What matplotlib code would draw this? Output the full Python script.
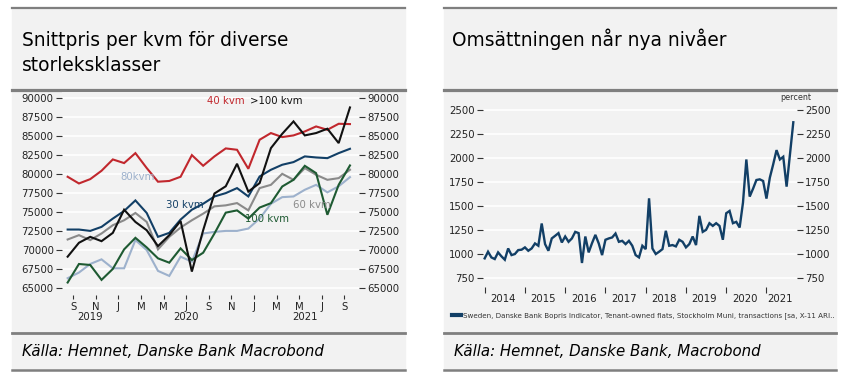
import numpy as np
import matplotlib
matplotlib.use("Agg")
import matplotlib.pyplot as plt
from matplotlib.patches import Rectangle
from matplotlib.lines import Line2D

# --- left chart: snittpris per kvm, aug 2019 - sep 2021 ---
month_labels = ["S", "N", "J", "M", "M", "J", "S", "N", "J", "M", "M", "J", "S"]
years_left = ["2019", "2020", "2021"]
kvm40 = [79650, 78770, 79340, 80440, 81930, 81450, 82760, 80800, 79000, 79100, 79650, 82500, 81100,
         82330, 83380, 83200, 80700, 84520, 85400, 84870, 85090, 85610, 86270, 85830, 86620, 86580]
kvm100plus = [69140, 70970, 71750, 71180, 72270, 75320, 73710, 72620, 70530, 71970, 73840, 67180, 72620,
              77450, 78400, 81360, 77700, 78820, 83420, 85300, 86930, 85090, 85400, 85970, 84080, 88770]
kvm30 = [72710, 72710, 72530, 73060, 74150, 75150, 76540, 74890, 71750, 72270, 74020, 75320, 76100,
         77060, 77500, 78160, 77060, 79690, 80570, 81230, 81580, 82330, 82190, 82100, 82760, 83330]
kvm60 = [71400, 71970, 71320, 72190, 73280, 73930, 74890, 73710, 70100, 71750, 72970, 73930, 74800,
         75760, 75890, 76190, 75230, 78160, 78590, 80040, 79250, 80790, 79910, 79250, 79470, 80570]
kvm100 = [65740, 68180, 68050, 66090, 67530, 70100, 71620, 70360, 68920, 68350, 70230, 68700, 69660,
          72190, 74930, 75230, 74150, 75600, 76180, 78370, 79250, 81090, 80130, 74650, 78590, 81140]
kvm80 = [66310, 67050, 68180, 68790, 67610, 67610, 71320, 70010, 67270, 66610, 69140, 68480, 72190,
         72400, 72530, 72530, 72840, 74150, 76100, 76970, 77060, 77940, 78590, 77600, 78400, 79600]

# --- right chart: transaktioner, jan 2014 - sep 2021 ---
years_right = ["2014", "2015", "2016", "2017", "2018", "2019", "2020", "2021"]
trans = [957, 1026, 967, 950, 1019, 978, 943, 1060, 991, 1002, 1043, 1047,
         1071, 1036, 1060, 1112, 1088, 1319, 1105, 1036, 1164, 1191, 1219, 1122,
         1184, 1129, 1164, 1232, 1219, 909, 1184, 1019, 1115, 1201, 1112, 991,
         1150, 1164, 1174, 1215, 1129, 1139, 1105, 1139, 1088, 991, 967, 1088,
         1053, 1580, 1060, 1002, 1026, 1053, 1243, 1088, 1095, 1081, 1150, 1129,
         1071, 1105, 1184, 1095, 1398, 1232, 1253, 1322, 1294, 1322, 1294, 1150,
         1425, 1449, 1322, 1336, 1277, 1536, 1983, 1598, 1680, 1770, 1777, 1760,
         1577, 1794, 1932, 2080, 1983, 2011, 1701, 2035, 2369]

RED = "#c1272d"
NAVY = "#123f66"
BLACK = "#111111"
GREY = "#8a8a8a"
LBLUE = "#9db1cc"
GREEN = "#1e5a32"
BG = "#f2f2f2"
RULE = "#7f7f7f"
TXT = "#222222"

W, H = 848, 382
def px(x):
    return x / W
def py(y):
    return 1 - y / H

plt.rcParams["font.family"] = ["DejaVu Sans"]
fig = plt.figure(figsize=(8.48, 3.82), dpi=100, facecolor="white")

# panels, rules
for x0, x1 in [(12, 405), (444, 836)]:
    fig.patches.append(Rectangle((px(x0), py(370)), px(x1) - px(x0), py(7) - py(370),
                                 transform=fig.transFigure, color=BG, zorder=-5))
    for yy, lw in [(7.5, 1.6), (89.5, 2.3), (332.5, 2.0), (369.5, 1.8)]:
        fig.add_artist(Line2D([px(x0), px(x1)], [py(yy), py(yy)], color=RULE, lw=lw))

fig.text(px(22), py(46.5), "Snittpris per kvm för diverse", fontsize=13.4, va="baseline")
fig.text(px(22), py(71), "storleksklasser", fontsize=13.4, va="baseline")
fig.text(px(452), py(46.5), "Omsättningen når nya nivåer", fontsize=13.4, va="baseline")
fig.text(px(22), py(352), "Källa: Hemnet, Danske Bank Macrobond", style="italic", fontsize=10.8, va="center")
fig.text(px(454), py(352), "Källa: Hemnet, Danske Bank, Macrobond", style="italic", fontsize=10.8, va="center")

# ---------------- left ----------------
ax = fig.add_axes([px(62), py(295), px(359) - px(62), py(92) - py(295)])
ax.set_zorder(2)
ax.set_facecolor(BG)
for s in ax.spines.values():
    s.set_visible(False)
k = np.arange(len(kvm40))
for series, col in [(kvm80, LBLUE), (kvm60, GREY), (kvm100, GREEN), (kvm30, NAVY),
                    (kvm40, RED), (kvm100plus, BLACK)]:
    ax.plot(k, series, color=col, lw=1.5, solid_joinstyle="miter")
ax.set_xlim(-0.5, 25.8)
ax.set_ylim(64100, 90800)
ax.set_yticks(np.arange(65000, 90001, 2500))
ax.yaxis.set_major_formatter(lambda v, p: f"{int(v)}")
ax.grid(axis="y", color="white", lw=1.2)
ax.set_axisbelow(True)
ax.tick_params(axis="y", left=True, right=True, labelleft=True, labelright=True,
               length=4, width=0.8, color="#333333", labelsize=7.3, labelcolor=TXT, pad=2)
ax.set_xticks(np.arange(0.5, 25, 2))
ax.set_xticklabels(month_labels)
ax.tick_params(axis="x", length=3, width=0.8, color="#333333", labelsize=7.3, labelcolor=TXT, pad=2)
for yr, c in zip(years_left, [2, 10.5, 21]):
    ax.text(c, -0.085, yr, transform=ax.get_xaxis_transform(), ha="center", va="top",
            fontsize=7.3, color=TXT)

lab_kw = dict(fontsize=7.3, va="center", ha="left")
ax.text(12.3, 89650, "40 kvm", color=RED, **lab_kw)
ax.text(16.15, 89650, ">100 kvm", color=BLACK, **lab_kw)
ax.text(4.63, 79680, "80kvm", color=LBLUE, **lab_kw)
ax.text(8.68, 75960, "30 kvm", color=NAVY, **lab_kw)
ax.text(15.7, 74080, "100 kvm", color=GREEN, **lab_kw)
ax.text(19.93, 75960, "60 kvm", color=GREY, **lab_kw)

# ---------------- right ----------------
ax2 = fig.add_axes([px(483), py(287), px(797) - px(483), py(100) - py(287)])
ax2.set_zorder(2)
ax2.set_facecolor(BG)
for s in ax2.spines.values():
    s.set_visible(False)
m = np.arange(len(trans))
ax2.plot(m, trans, color=NAVY, lw=1.7, solid_joinstyle="miter",
         label="Sweden, Danske Bank Bopris Indicator, Tenant-owned flats, Stockholm Muni, transactions [sa, X-11 ARI..")
ax2.set_xlim(-0.5, 93.1)
ax2.set_ylim(660, 2600)
ax2.set_yticks(np.arange(750, 2501, 250))
ax2.grid(axis="y", color="white", lw=1.2)
ax2.set_axisbelow(True)
ax2.tick_params(axis="y", left=True, right=True, labelleft=True, labelright=True,
                length=4, width=0.8, color="#333333", labelsize=7.3, labelcolor=TXT, pad=2)
ax2.set_xticks(np.arange(0, 85, 12))
ax2.set_xticklabels([])
ax2.tick_params(axis="x", length=4, width=0.8, color="#333333")
centers = [5.5 + 12 * i for i in range(7)] + [88]
for yr, c in zip(years_right, centers):
    ax2.text(c, -0.035, yr, transform=ax2.get_xaxis_transform(), ha="center", va="top",
             fontsize=7.3, color=TXT)
fig.text(px(796), py(97.5), "percent", ha="center", va="center", fontsize=5.8, color="#333333")
ax2.legend(loc="center left", bbox_to_anchor=(px(452), py(316)), bbox_transform=fig.transFigure,
           frameon=False, fontsize=5.1, handlelength=1.3, handletextpad=0.3,
           borderaxespad=0, borderpad=0, labelcolor="#333333")
for ln in ax2.get_legend().get_lines():
    ln.set_linewidth(3)

fig.savefig("out.png", dpi=100, facecolor="white")
